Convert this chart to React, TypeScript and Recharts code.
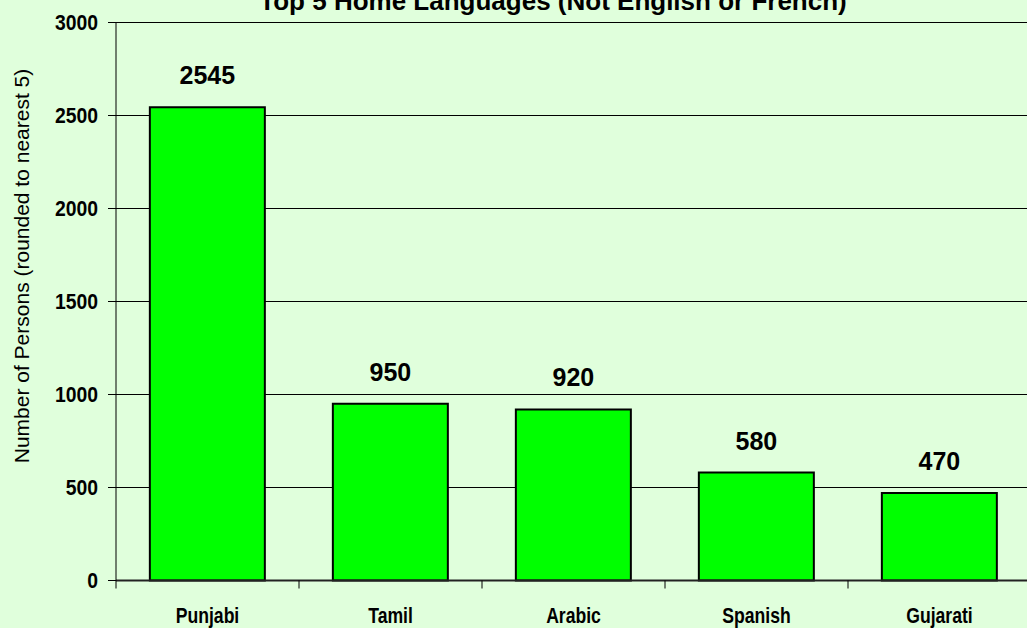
import React from 'react';
import { BarChart, Bar, XAxis, YAxis, CartesianGrid, LabelList } from 'recharts';

const languages = ['Punjabi', 'Tamil', 'Arabic', 'Spanish', 'Gujarati'];
const persons = [2545, 950, 920, 580, 470];
const yTicks = [0, 500, 1000, 1500, 2000, 2500, 3000];

const data = languages.map((name, i) => ({ name, value: persons[i] }));

const BG = '#E0FFDC';
const sans = '"Liberation Sans", Arial, sans-serif';
const CHART_W = 1031;
const YAXIS_W = 116;
const BAND = (CHART_W - YAXIS_W) / languages.length;

const XTick = (props: any) => {
  const { x, y, payload, index } = props;
  const left = x - BAND / 2;
  const right = x + BAND / 2;
  return (
    <g>
      <line x1={left} y1={y} x2={left} y2={y + 8} stroke="#000" strokeWidth={1} />
      {index === languages.length - 1 && (
        <line x1={right} y1={y} x2={right} y2={y + 8} stroke="#000" strokeWidth={1} />
      )}
      <g transform={`translate(${x},${y + 42})`}>
        <text
          transform="scale(0.8,1)"
          textAnchor="middle"
          fill="#000"
          style={{ fontFamily: sans, fontWeight: 'bold', fontSize: 22 }}
        >
          {payload.value}
        </text>
      </g>
    </g>
  );
};

const YTick = (props: any) => {
  const { x, y, payload } = props;
  return (
    <g transform={`translate(${x},${y})`}>
      <text
        transform="scale(0.88,1)"
        textAnchor="end"
        dy="0.36em"
        fill="#000"
        style={{ fontFamily: sans, fontWeight: 'bold', fontSize: 22 }}
      >
        {payload.value}
      </text>
    </g>
  );
};

export default function App() {
  return (
    <div style={{ position: 'absolute', left: 0, top: 0, width: 1027, height: 628, background: BG, overflow: 'hidden' }}>
      <BarChart
        width={CHART_W}
        height={628}
        data={data}
        margin={{ top: 22.5, right: 0, left: 0, bottom: 0 }}
        barCategoryGap="18.5%"
      >
        <CartesianGrid horizontal={true} vertical={false} stroke="#000" strokeWidth={1} />
        <XAxis
          dataKey="name"
          height={47.5}
          axisLine={{ stroke: '#222', strokeWidth: 2 }}
          tickLine={false}
          tickSize={0}
          tickMargin={0}
          interval={0}
          tick={<XTick />}
        />
        <YAxis
          width={YAXIS_W}
          domain={[0, 3000]}
          ticks={yTicks}
          interval={0}
          axisLine={{ stroke: '#000' }}
          tickLine={{ stroke: '#000' }}
          tickSize={8}
          tickMargin={10}
          tick={<YTick />}
        />
        <Bar dataKey="value" fill="#00FF00" stroke="#000" strokeWidth={2} isAnimationActive={false}>
          <LabelList
            dataKey="value"
            position="top"
            offset={23}
            style={{ fill: '#000', fontFamily: sans, fontWeight: 'bold', fontSize: 25 }}
          />
        </Bar>
        <text
          x={553}
          y={10}
          textAnchor="middle"
          style={{ fill: '#000', fontFamily: sans, fontWeight: 'bold', fontSize: 26 }}
        >
          Top 5 Home Languages (Not English or French)
        </text>
        <text
          x={21}
          y={266}
          transform="rotate(-90, 21, 266)"
          textAnchor="middle"
          dominantBaseline="central"
          style={{ fill: '#000', fontFamily: sans, fontSize: 21 }}
        >
          Number of Persons (rounded to nearest 5)
        </text>
      </BarChart>
    </div>
  );
}
